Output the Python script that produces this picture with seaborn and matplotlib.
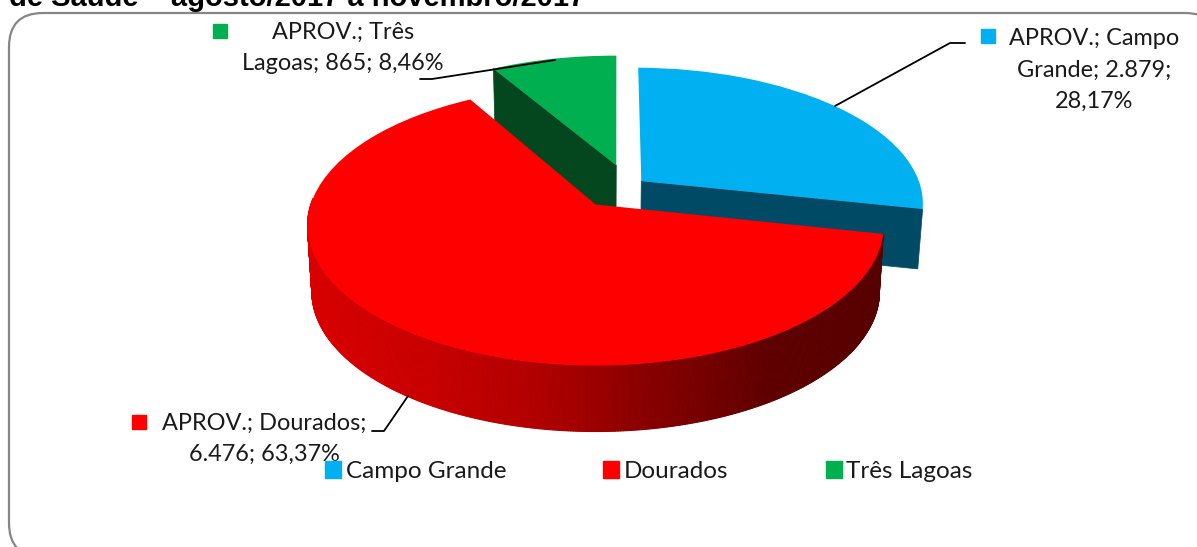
import numpy as np
import seaborn as sns
from matplotlib import pyplot as plt
from matplotlib.patches import FancyBboxPatch, Patch
from matplotlib.transforms import Transform

cities = ["Campo Grande", "Dourados", "Três Lagoas"]
approved = [2879, 6476, 865]
point_labels = [
    "APROV.; Campo\nGrande; 2.879;\n28,17%",
    "APROV.; Dourados;\n6.476; 63,37%",
    "APROV.; Três\nLagoas; 865; 8,46%",
]
title = "de Saúde – agosto/2017 a novembro/2017"

top_colors = ["#00b0f0", "#ff0000", "#00b050"]
side_colors = ["#004a66", "#8f0000", "#04471f"]
wall_colors = ["#d80000", "#c80000", "#b00000", "#850000", "#5f0000", "#570000"]


class Tilt(Transform):
    # Squashes the flat pie with some perspective, drop moves it down the picture.
    input_dims = 2
    output_dims = 2
    has_inverse = False

    def __init__(self, drop=0.0, shrink=1.0):
        super().__init__()
        self.drop = drop
        self.shrink = shrink

    def transform_non_affine(self, values):
        x, y = np.asarray(values).T
        w = 1 + 0.15 * y
        return np.column_stack([597 + 285 * self.shrink * x / w, 205 - 137 * y / w + self.drop])


def rim(wedge, angles):
    a = np.radians(angles)
    return np.column_stack([wedge.center[0] + wedge.r * np.cos(a), wedge.center[1] + wedge.r * np.sin(a)])


def draw_cut(ax, wedge, angle, color, up, low):
    pts = np.vstack([wedge.center, rim(wedge, [angle])])
    poly = np.vstack([up.transform(pts), low.transform(pts[::-1])])
    ax.fill(poly[:, 0], poly[:, 1], color=color, lw=0.5, zorder=1)


def draw_wall(ax, wedge, palette, up, low):
    # Outer wall of a slice, coloured in thin strips left to right.
    angles = np.linspace(wedge.theta1, wedge.theta2, 500)
    top = up.transform(rim(wedge, angles))
    bottom = low.transform(rim(wedge, angles))
    lo, hi = top[:, 0].min(), top[:, 0].max()
    for i in range(len(angles) - 1):
        if np.sin(np.radians(angles[i])) > 0.05:
            continue
        k = int((top[i, 0] - lo) / (hi - lo) * (len(palette) - 1))
        poly = np.vstack([top[i:i + 2], bottom[i:i + 2][::-1]])
        ax.fill(poly[:, 0], poly[:, 1], color=palette[k], lw=0.8, zorder=2)


sns.set_theme(style="white")
plt.rcParams["font.family"] = ["Lato", "DejaVu Sans"]

fig = plt.figure(figsize=(11.97, 5.47), dpi=100)
ax = fig.add_axes([0, 0, 1, 1])

wedges, _ = ax.pie(approved, colors=top_colors, startangle=89.4, counterclock=False,
                   explode=[0.02, 0.227, 0.12], center=(0.129, 0.187))
ax.set_aspect("auto")
ax.set_xlim(0, 1197)
ax.set_ylim(547, 0)
ax.axis("off")

# The explode direction alone leaves blue and green a few pixels off.
wedges[0].set_center((wedges[0].center[0] + 0.015, wedges[0].center[1] - 0.02))
wedges[2].set_center((wedges[2].center[0] - 0.028, wedges[2].center[1]))

up = Tilt()
low = Tilt(drop=66, shrink=0.985)
low_back = Tilt(drop=60, shrink=0.985)
for wedge in wedges:
    wedge.set_transform(up + ax.transData)
    wedge.set_zorder(3)
    wedge.set_linewidth(0)

draw_cut(ax, wedges[0], wedges[0].theta1, side_colors[0], up, low_back)
draw_cut(ax, wedges[2], wedges[2].theta2, side_colors[2], up, low_back)
draw_wall(ax, wedges[1], sns.blend_palette(wall_colors, 200), up, low)

# Chart frame, runs past the picture on the right and at the bottom.
ax.add_patch(FancyBboxPatch((9, 13), 1210, 544, boxstyle="round,pad=0,rounding_size=34",
                            fc="white", ec="#868686", lw=1.6, zorder=0))
ax.text(9, 6.5, title, fontsize=21, fontweight="bold", family="Liberation Sans", color="black",
        ha="left", va="baseline")

# Leader lines.
ax.plot([965, 950, 835], [43, 43, 106], color="black", lw=1.3, zorder=4)
ax.plot([420, 432, 555], [79, 79, 60], color="black", lw=1.3, zorder=4)
ax.plot([372, 384, 408], [431, 431, 396], color="black", lw=1.3, zorder=4)

# Data labels with their keys.
text_color = "#1a1a1a"
ax.text(1094, 70, point_labels[0], fontsize=16.9, color=text_color, ha="center", va="center", linespacing=1.6)
ax.text(264, 439, point_labels[1], fontsize=16.9, color=text_color, ha="center", va="center", linespacing=1.6)
ax.text(343, 48, point_labels[2], fontsize=16.9, color=text_color, ha="center", va="center", linespacing=1.6)
ax.plot([988], [36], "s", color=top_colors[0], ms=10.5, zorder=5)
ax.plot([139], [422], "s", color=top_colors[1], ms=10.5, zorder=5)
ax.plot([220], [31], "s", color=top_colors[2], ms=10.5, zorder=5)

handles = [Patch(color=c, label=n) for c, n in zip(top_colors, cities)]
ax.legend(handles=handles, ncol=3, frameon=False, loc="center left", bbox_to_anchor=(325 / 1197, 1 - 471.5 / 547),
          fontsize=17.5, handlelength=0.65, handleheight=0.65, handletextpad=0.2, columnspacing=4.0,
          borderpad=0, borderaxespad=0, labelcolor=text_color)

plt.savefig("out.png", dpi=100)
